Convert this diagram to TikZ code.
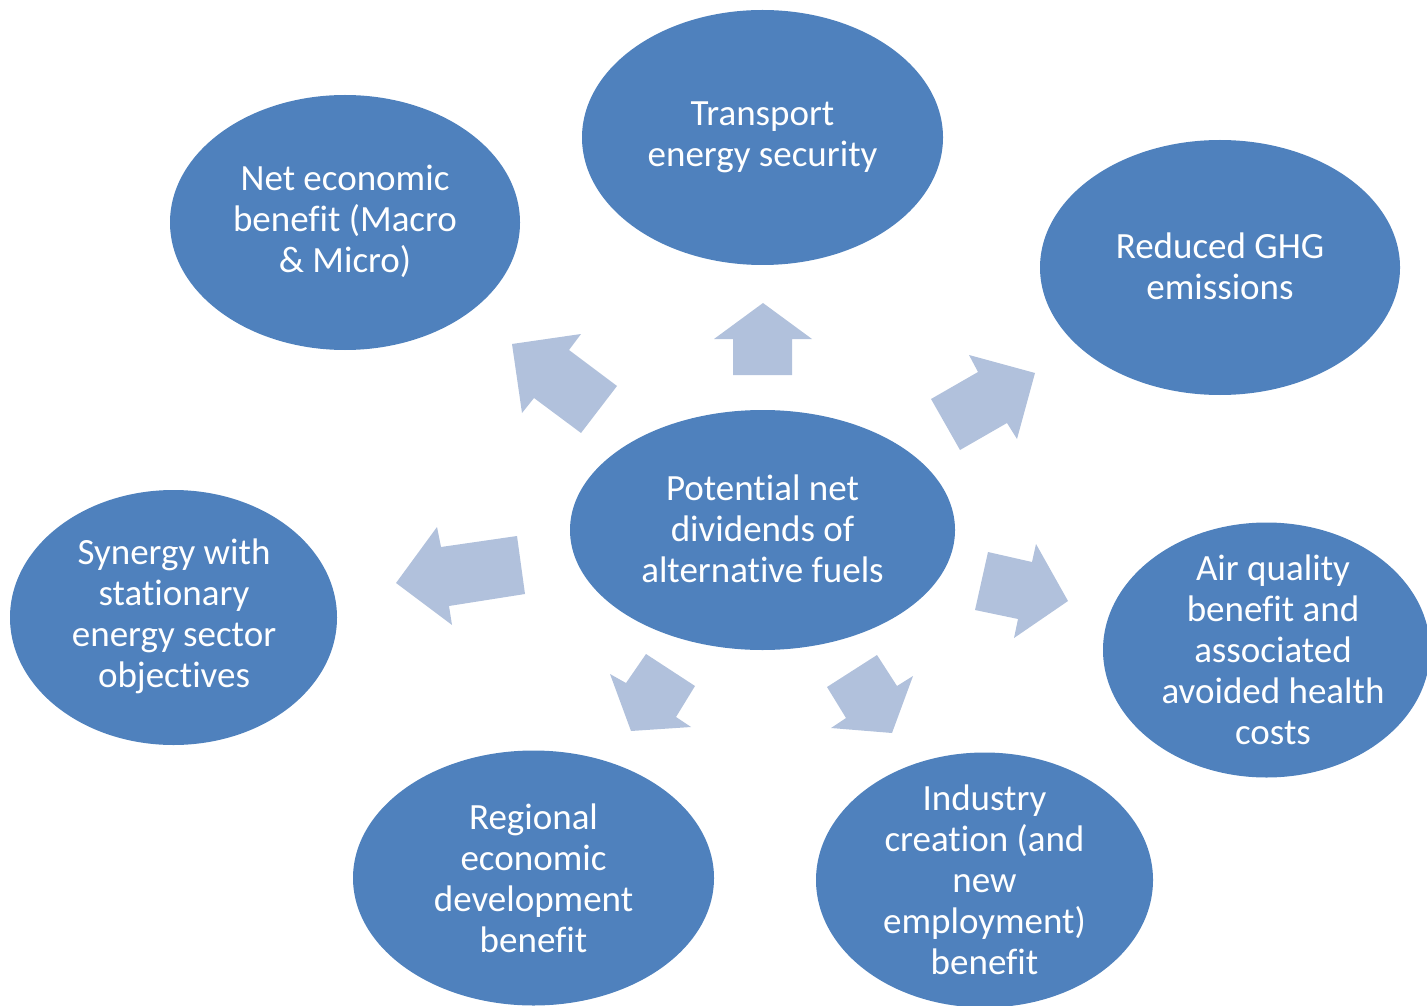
\documentclass[tikz,border=0pt]{standalone}
\usepackage{fontspec}
\setmainfont{Carlito}[Ligatures={NoCommon,NoContextual,NoRare},Contextuals=NoAlternate]
\usetikzlibrary{shapes.geometric}
\definecolor{bubblue}{RGB}{79,129,189}
\definecolor{arrblue}{RGB}{177,193,220}
\begin{document}
\begin{tikzpicture}[x=0.5pt,y=-0.5pt,
  bub/.style={ellipse, fill=bubblue, inner sep=0pt},
  txt/.style={text=white, align=center, inner sep=0pt, font=\fontsize{18.5}{20.5}\selectfont},
  arr/.style={fill=arrblue}]
\useasboundingbox (0,0) rectangle (1427,1005);
\clip (0,0) rectangle (1427,1005);
% block arrows
\fill[arr] (763,303) -- (812,339) -- (792,339) -- (792,375) -- (733,375) -- (733,339) -- (714,339) -- cycle;
\fill[arr] (512,344) -- (581,334) -- (569,350) -- (617,386) -- (581,433) -- (534,398) -- (522,413) -- cycle;
\fill[arr] (1035,373) -- (1017,439) -- (1007,423) -- (960,450) -- (931,399) -- (978,372) -- (969,355) -- cycle;
\fill[arr] (396,583) -- (437,527) -- (441,547) -- (517,536) -- (525,594) -- (449,606) -- (452,625) -- cycle;
\fill[arr] (1068,601) -- (1014,638) -- (1018,619) -- (975,610) -- (988,552) -- (1032,562) -- (1036,544) -- cycle;
\fill[arr] (631,731) -- (610,674) -- (626,683) -- (646,654) -- (695,686) -- (676,717) -- (691,727) -- cycle;
\fill[arr] (892,733) -- (831,728) -- (846,718) -- (827,687) -- (877,655) -- (897,686) -- (913,676) -- cycle;
% ellipses
\node[bub, minimum width=192.5pt, minimum height=120pt] (c) at (762.5,530) {};
\node[bub, minimum width=180.5pt, minimum height=127.5pt] (ts) at (762.5,137.5) {};
\node[bub, minimum width=175pt, minimum height=127.5pt] (ne) at (345,222.5) {};
\node[bub, minimum width=180pt, minimum height=127.5pt] (gh) at (1220,267.5) {};
\node[bub, minimum width=163.5pt, minimum height=127.5pt] (sy) at (173.5,617.5) {};
\node[bub, minimum width=163.5pt, minimum height=127.5pt] (aq) at (1266.5,650) {};
\node[bub, minimum width=180.5pt, minimum height=127.5pt] (re) at (533.5,878) {};
\node[bub, minimum width=168.5pt, minimum height=127.5pt] (in) at (984.5,880) {};
% texts
\node[txt] (ct) at (762.5,529) {Potent\kern0pt ial net\\dividends of\\alternat\kern0pt ive fuels};
\node[txt] (tst) at (762.5,137) {Transport\\energy security};
\node[txt] (net) at (345,221) {Net economic\\benefit (Macro\\\& Micro)};
\node[txt] (ght) at (1220,266) {Reduced GHG\\emissions};
\node[txt] (syt) at (174,616) {Synergy with\\stationary\\energy sector\\object\kern0pt ives};
\node[txt] (aqt) at (1273,650) {Air quality\\benefit and\\associated\\avoided health\\costs};
\node[txt] (ret) at (533.5,878) {Regional\\economic\\development\\benefit};
\node[txt] (int) at (984.5,880) {Industry\\creation (and\\new\\employment)\\benefit};
\end{tikzpicture}
\end{document}
